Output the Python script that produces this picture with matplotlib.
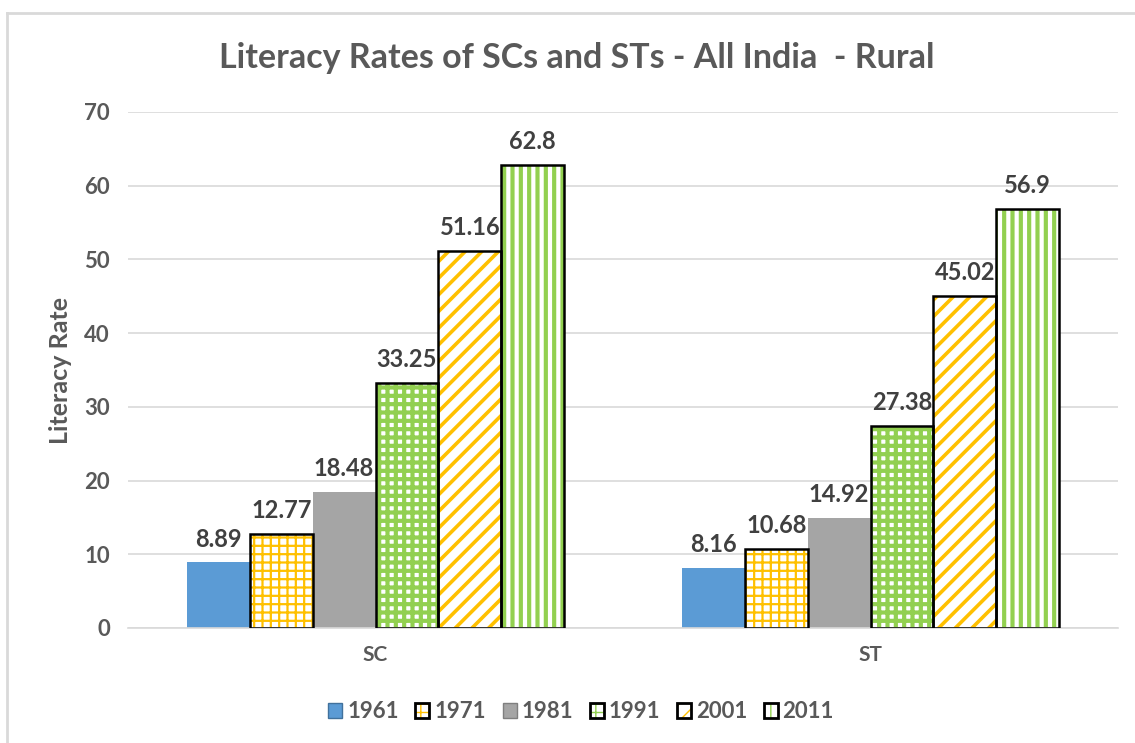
import matplotlib.pyplot as plt
import numpy as np
from matplotlib.patches import Patch

# ── data ──────────────────────────────────────────────────────────────
categories = ["SC", "ST"]
years = ["1961", "1971", "1981", "1991", "2001", "2011"]
rates = {
    "1961": [8.89, 8.16],
    "1971": [12.77, 10.68],
    "1981": [18.48, 14.92],
    "1991": [33.25, 27.38],
    "2001": [51.16, 45.02],
    "2011": [62.8, 56.9],
}

YELLOW = "#FFC000"
GREEN = "#92D050"
TXT = "#595959"

# facecolor, hatch colour, hatch, hatch linewidth
styles = {
    "1961": ("#5B9BD5", None, None, 0),
    "1971": ("white", YELLOW, "++", 1.6),
    "1981": ("#A5A5A5", None, None, 0),
    "1991": ("white", GREEN, "++", 3.0),
    "2001": ("white", YELLOW, "//", 2.6),
    "2011": ("white", GREEN, "||", 3.0),
}

plt.rcParams["font.family"] = ["Lato", "DejaVu Sans"]
plt.rcParams["font.weight"] = "bold"

fig = plt.figure(figsize=(11.35, 7.43), dpi=100)
ax = fig.add_axes([128 / 1135, 115 / 743, 990 / 1135, 516 / 743])

# outer chart border (left and top visible)
fig.add_artist(plt.Line2D([7 / 1135, 7 / 1135], [0, 1 - 13 / 743],
                          transform=fig.transFigure, color="#D9D9D9", lw=2))
fig.add_artist(plt.Line2D([7 / 1135, 1], [1 - 13 / 743, 1 - 13 / 743],
                          transform=fig.transFigure, color="#D9D9D9", lw=2))

x = np.arange(len(categories))
w = 0.127
handles = []
for i, yr in enumerate(years):
    fc, hc, hatch, hlw = styles[yr]
    pos = x + (i - 2.5) * w
    vals = rates[yr]
    if hatch:
        ax.bar(pos, vals, w, color=fc, edgecolor=hc, hatch=hatch,
               linewidth=0, hatch_linewidth=hlw, zorder=2)
        ax.bar(pos, vals, w, fill=False, edgecolor="black", linewidth=1.8, zorder=3)
        handles.append((Patch(facecolor=fc, edgecolor=hc, hatch=hatch, linewidth=0),
                        Patch(fill=False, edgecolor="black", linewidth=2)))
    else:
        ax.bar(pos, vals, w, color=fc, linewidth=0, zorder=2)
        handles.append(Patch(facecolor=fc, edgecolor="#41719C" if yr == "1961" else "#7F7F7F",
                             linewidth=1))
    for p, v in zip(pos, vals):
        ax.text(p, v + 1.6, f"{v:g}" if yr != "2001" else f"{v:.2f}",
                ha="center", va="bottom", fontsize=17, fontweight="bold", color="#404040")

ax.set_xlim(-0.5, 1.5)
ax.set_ylim(0, 70)
ax.set_yticks(range(0, 71, 10))
ax.set_xticks(x)
ax.set_xticklabels(categories)
ax.tick_params(axis="both", length=0, labelsize=16, labelcolor=TXT)
ax.tick_params(axis="x", pad=12, labelsize=15)
ax.tick_params(axis="y", pad=13)
ax.yaxis.grid(True, color="#D9D9D9", linewidth=1.2, zorder=0)
ax.set_axisbelow(True)
for s in ["top", "right", "left"]:
    ax.spines[s].set_visible(False)
ax.spines["bottom"].set_color("#D9D9D9")
ax.spines["bottom"].set_linewidth(1.2)

ax.set_ylabel("Literacy Rate", fontsize=18, fontweight="bold", color=TXT, labelpad=9)
fig.text(0.508, 1 - 58 / 743, "Literacy Rates of SCs and STs - All India  - Rural",
         ha="center", va="center", fontsize=24.5, fontweight="bold", color=TXT)

fig.legend(handles, years, loc="center", bbox_to_anchor=(0.512, 1 - 712 / 743), ncol=6,
           frameon=False, fontsize=16, handlelength=0.63, handleheight=0.63,
           handletextpad=0.22, columnspacing=0.75, labelcolor=TXT)

fig.savefig("out.png", dpi=100)
